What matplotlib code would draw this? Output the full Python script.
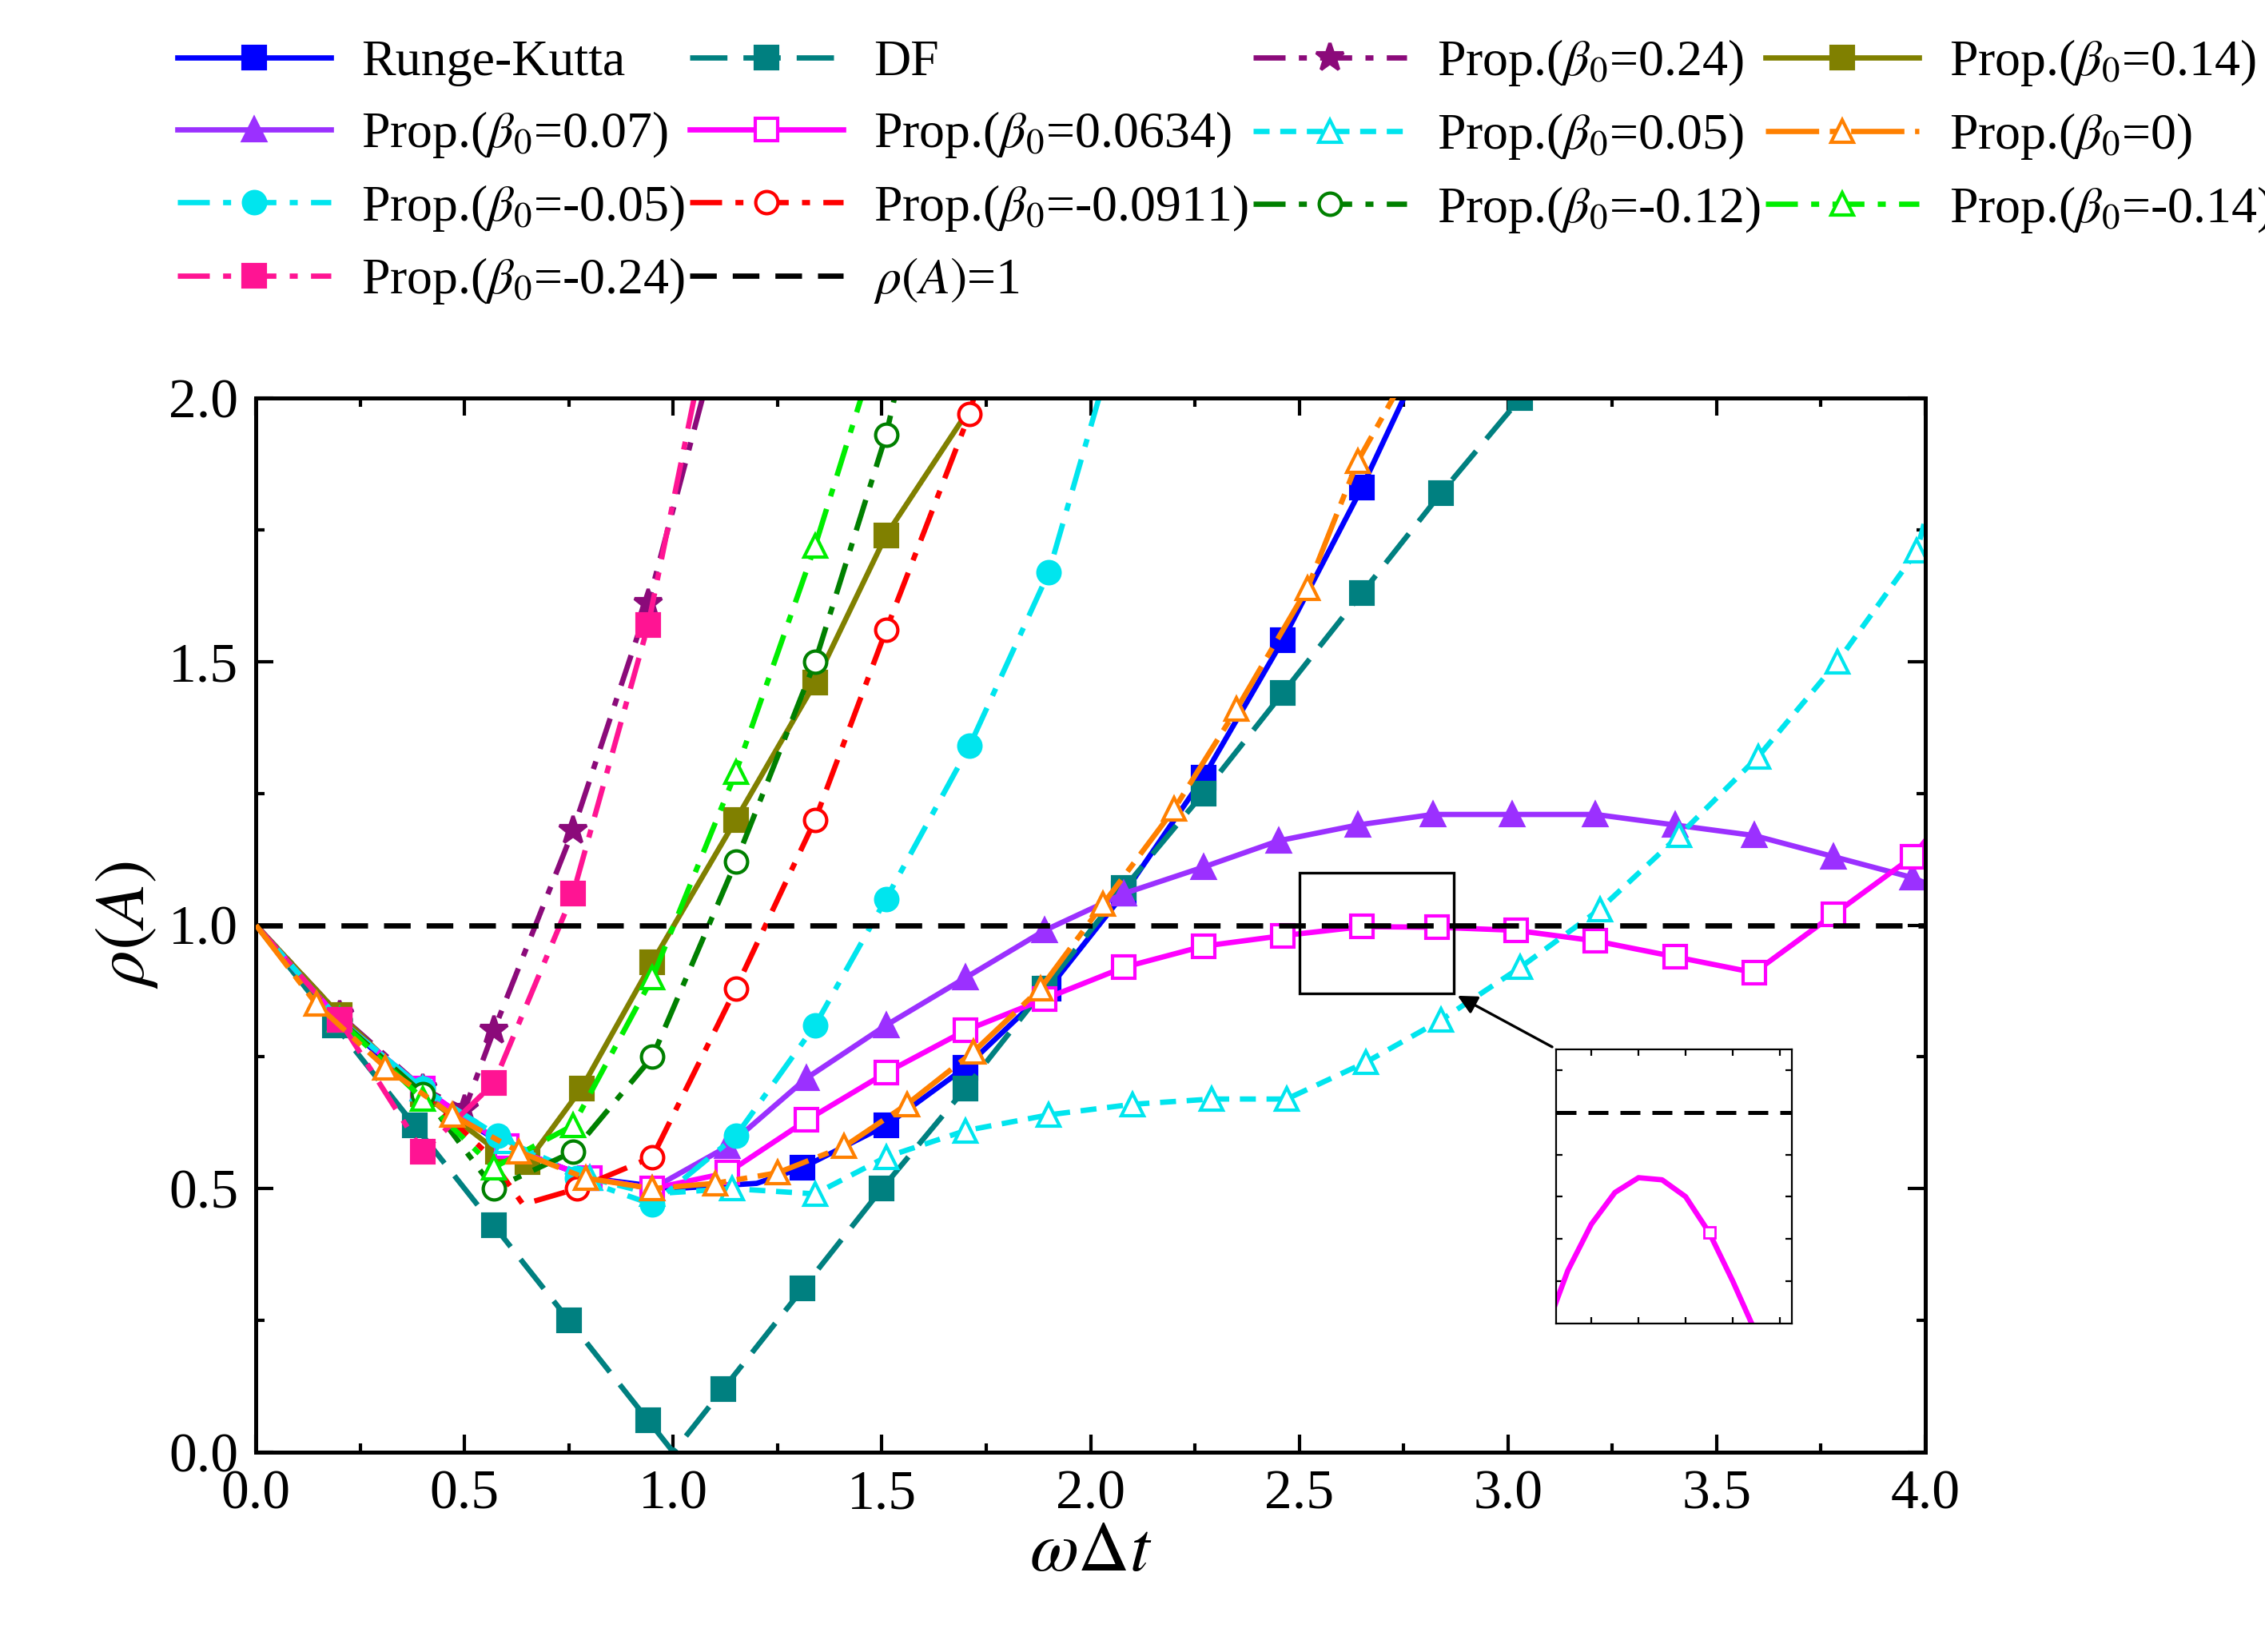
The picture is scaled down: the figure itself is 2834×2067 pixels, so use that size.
import matplotlib
matplotlib.use("Agg")
import matplotlib.pyplot as plt
from matplotlib.patches import Rectangle

plt.rcParams["font.family"] = "Liberation Serif"
plt.rcParams["mathtext.fontset"] = "stix"

rk_x = [0, 0.2, 0.4, 0.6, 0.8, 1.0, 1.2, 1.31, 1.51, 1.7, 1.9, 2.08, 2.27, 2.46, 2.65, 2.78]
rk_y = [1.0, 0.82, 0.68, 0.58, 0.52, 0.5, 0.51, 0.54, 0.62, 0.73, 0.88, 1.06, 1.28, 1.54, 1.83, 2.05]
df_x = [0, 0.19, 0.38, 0.57, 0.75, 0.94, 1.0, 1.12, 1.31, 1.5, 1.7, 1.89, 2.08, 2.27, 2.46, 2.65, 2.84, 3.03]
df_y = [1.0, 0.81, 0.62, 0.43, 0.25, 0.06, 0.0, 0.12, 0.31, 0.5, 0.69, 0.88, 1.07, 1.25, 1.44, 1.63, 1.82, 2.0]
p024_x = [0, 0.2, 0.4, 0.5, 0.57, 0.76, 0.94, 1.07]
p024_y = [1.0, 0.83, 0.69, 0.65, 0.80, 1.18, 1.61, 2.0]
p014_x = [0, 0.2, 0.4, 0.58, 0.65, 0.78, 0.95, 1.15, 1.34, 1.51, 1.71]
p014_y = [1.0, 0.83, 0.68, 0.57, 0.55, 0.69, 0.93, 1.2, 1.46, 1.74, 1.98]
p007_x = [0, 0.2, 0.4, 0.6, 0.8, 0.95, 1.13, 1.32, 1.51, 1.70, 1.89, 2.08, 2.27, 2.45, 2.64, 2.82, 3.01, 3.21, 3.4, 3.59, 3.78, 3.97, 4.0]
p007_y = [1.0, 0.82, 0.69, 0.58, 0.52, 0.5, 0.58, 0.71, 0.81, 0.90, 0.99, 1.06, 1.11, 1.16, 1.19, 1.21, 1.21, 1.21, 1.19, 1.17, 1.13, 1.09, 1.08]
p0634_x = [0, 0.2, 0.4, 0.6, 0.8, 0.95, 1.13, 1.32, 1.51, 1.70, 1.89, 2.08, 2.27, 2.46, 2.65, 2.83, 3.02, 3.21, 3.4, 3.59, 3.78, 3.97, 4.0]
p0634_y = [1.0, 0.82, 0.69, 0.58, 0.52, 0.5, 0.53, 0.63, 0.72, 0.80, 0.86, 0.92, 0.96, 0.98, 0.997, 0.996, 0.99, 0.97, 0.94, 0.91, 1.02, 1.13, 1.16]
inset_x = [0.0, 0.1, 0.2, 0.3, 0.4, 0.5, 0.6, 0.7, 0.8, 0.9, 1.0]
inset_y = [-0.05, 0.25, 0.47, 0.62, 0.69, 0.68, 0.60, 0.43, 0.20, -0.05, -0.3]
p005_x = [0, 0.2, 0.4, 0.6, 0.8, 0.95, 1.14, 1.34, 1.51, 1.70, 1.9, 2.1, 2.29, 2.47, 2.66, 2.84, 3.03, 3.22, 3.41, 3.6, 3.79, 3.98, 4.0]
p005_y = [1.0, 0.82, 0.69, 0.59, 0.52, 0.49, 0.50, 0.49, 0.56, 0.61, 0.64, 0.66, 0.67, 0.67, 0.74, 0.82, 0.92, 1.03, 1.17, 1.32, 1.5, 1.71, 1.77]
p0_x = [0, 0.145, 0.31, 0.47, 0.63, 0.79, 0.95, 1.1, 1.25, 1.41, 1.56, 1.72, 1.88, 2.03, 2.2, 2.35, 2.52, 2.64, 2.76]
p0_y = [1.0, 0.85, 0.73, 0.64, 0.57, 0.52, 0.5, 0.51, 0.53, 0.58, 0.66, 0.76, 0.88, 1.04, 1.22, 1.41, 1.64, 1.88, 2.05]
m005_x = [0, 0.2, 0.4, 0.58, 0.77, 0.95, 1.15, 1.34, 1.51, 1.71, 1.9, 2.02]
m005_y = [1.0, 0.82, 0.69, 0.6, 0.52, 0.47, 0.6, 0.81, 1.05, 1.34, 1.67, 2.0]
m0911_x = [0, 0.2, 0.4, 0.55, 0.64, 0.77, 0.95, 1.15, 1.34, 1.51, 1.71, 1.72]
m0911_y = [1.0, 0.82, 0.68, 0.57, 0.47, 0.5, 0.56, 0.88, 1.2, 1.56, 1.97, 2.0]
m012_x = [0, 0.2, 0.4, 0.57, 0.76, 0.95, 1.15, 1.34, 1.51, 1.53]
m012_y = [1.0, 0.82, 0.68, 0.5, 0.57, 0.75, 1.12, 1.5, 1.93, 2.0]
m014_x = [0, 0.2, 0.4, 0.57, 0.76, 0.95, 1.15, 1.34, 1.45]
m014_y = [1.0, 0.82, 0.67, 0.54, 0.62, 0.9, 1.29, 1.72, 2.0]
m024_x = [0, 0.2, 0.4, 0.57, 0.76, 0.94, 1.05]
m024_y = [1.0, 0.82, 0.57, 0.7, 1.06, 1.57, 2.0]

fig = plt.figure(figsize=(14.17, 10.335), dpi=200)
ax = fig.add_axes([0.113, 0.121, 0.737, 0.638])
lw = 2.4
ms = 10
dd = (0, (6, 2.5, 1.5, 2.5))
dashed = (0, (7, 3))

def mk(ax_, x, y, color, marker, ls, label, filled=True, z=2, every=None):
    if every is None:
        every = list(range(1, len(x) - 1))
    return ax_.plot(x, y, color=color, ls=ls, lw=lw, marker=marker, ms=ms if marker != "*" else ms + 3,
                    mfc=color if filled else "white", mec=color, mew=1.5, label=label, zorder=z,
                    markevery=every)[0]

b = r"Prop.($\beta_0$="
h = {}
h["rk"] = mk(ax, rk_x, rk_y, "#0000ff", "s", "-", "Runge-Kutta", every=[7, 8, 9, 10, 11, 12, 13, 14])
h["df"] = mk(ax, df_x, df_y, "#008080", "s", dashed, "DF", every=[1, 2, 3, 4, 5, 7, 8, 9, 10, 11, 12, 13, 14, 15, 16, 17])
h["p024"] = mk(ax, p024_x, p024_y, "#8b0a7a", "*", dd, b + "0.24)")
h["p014"] = mk(ax, p014_x, p014_y, "#808000", "s", "-", b + "0.14)")
h["p007"] = mk(ax, p007_x, p007_y, "#9b30ff", "^", "-", b + "0.07)")
h["p0634"] = mk(ax, p0634_x, p0634_y, "#ff00ff", "s", "-", b + "0.0634)", False)
h["p005"] = mk(ax, p005_x, p005_y, "#00e5ee", "^", (0, (3, 2)), b + "0.05)", False)
h["p0"] = mk(ax, p0_x, p0_y, "#ff8000", "^", (0, (10, 2, 2, 2)), b + "0)", False, 3)
h["m005"] = mk(ax, m005_x, m005_y, "#00e5ee", "o", dd, b + "-0.05)")
h["m0911"] = mk(ax, m0911_x, m0911_y, "#ff0000", "o", dd, b + "-0.0911)", False, every=[5, 6, 7, 8, 9, 10])
h["m012"] = mk(ax, m012_x, m012_y, "#008000", "o", dd, b + "-0.12)", False)
h["m014"] = mk(ax, m014_x, m014_y, "#00ee00", "^", dd, b + "-0.14)", False)
h["m024"] = mk(ax, m024_x, m024_y, "#ff1493", "s", dd, b + "-0.24)")
h["one"] = ax.axhline(1.0, color="black", ls=(0, (5, 3)), lw=lw, label=r"$\rho(A)$=1")

ax.set_xlim(0, 4.0)
ax.set_ylim(0, 2.0)
ax.set_xticks([0, 0.5, 1, 1.5, 2, 2.5, 3, 3.5, 4])
ax.set_xticks([0.25, 0.75, 1.25, 1.75, 2.25, 2.75, 3.25, 3.75], minor=True)
ax.set_yticks([0, 0.5, 1.0, 1.5, 2.0])
ax.set_yticks([0.25, 0.75, 1.25, 1.75], minor=True)
ax.set_xticklabels(["0.0", "0.5", "1.0", "1.5", "2.0", "2.5", "3.0", "3.5", "4.0"])
ax.set_yticklabels(["0.0", "0.5", "1.0", "1.5", "2.0"])
ax.tick_params(which="both", direction="in", top=True, right=True, labelsize=25, width=1.5)
ax.tick_params(which="major", length=8, pad=8)
ax.tick_params(which="minor", length=4)
for s in ax.spines.values():
    s.set_linewidth(1.8)
ax.set_xlabel(r"$\omega\Delta t$", fontsize=32, labelpad=0)
ax.set_ylabel(r"$\rho(A)$", fontsize=32, labelpad=4)

ax.add_patch(Rectangle((2.5, 0.87), 0.37, 0.23, fill=False, lw=1.2, color="black", zorder=5))

iax = fig.add_axes([0.687, 0.199, 0.104, 0.166])
iax.plot(inset_x, inset_y, color="#ff00ff", lw=lw, marker="s", ms=5, mfc="white", mec="#ff00ff", markevery=[7])
iax.axhline(1.0, color="black", ls=(0, (5, 3)), lw=1.8)
iax.set_xlim(0.05, 1.05)
iax.set_ylim(0.0, 1.3)
iax.set_xticks([0.2, 0.4, 0.6, 0.8, 1.0])
iax.set_yticks([0.2, 0.4, 0.6, 0.8, 1.0, 1.2])
iax.tick_params(which="both", direction="in", top=True, right=True, labelbottom=False, labelleft=False, length=3)
ax.annotate("", xy=(2.87, 0.87), xycoords="data", xytext=(0.687, 0.365), textcoords="figure fraction",
            arrowprops=dict(arrowstyle="-|>", color="black", lw=1.2, mutation_scale=18))

order = ["rk", "p007", "m005", "m024", "df", "p0634", "m0911", "one", "p024", "p005", "m012", "p014", "p0", "m014"]
fig.legend([h[k] for k in order], [h[k].get_label() for k in order], loc="upper left",
           bbox_to_anchor=(0.058, 1.005), ncol=4, frameon=False, fontsize=23, handlelength=3.0,
           columnspacing=0.1, handletextpad=0.6, labelspacing=0.45)
fig.savefig("out.png", dpi=200)
